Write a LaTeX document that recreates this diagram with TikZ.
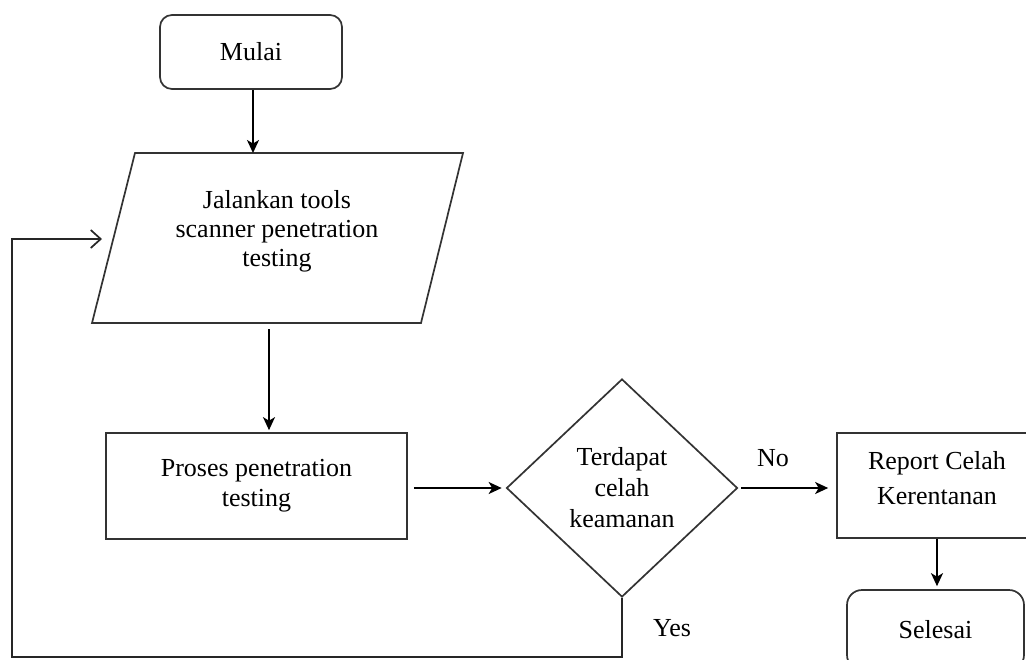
\documentclass[tikz,border=0pt]{standalone}
\usepackage{fontspec}
\setmainfont{Liberation Serif}
\usetikzlibrary{arrows.meta,shapes.geometric,calc}
\begin{document}
\begin{tikzpicture}[x=1pt,y=-1pt,
  txt/.style={font=\fontsize{26}{30}\selectfont, align=center, inner sep=0pt},
  outline/.style={draw=black!80, line width=1.7pt},
  box/.style={outline, inner sep=0pt},
  arr/.style={draw=black, line width=1.7pt, -{Stealth[length=13pt,width=12pt,inset=3.5pt]}},
  fb/.style={draw=black!85, line width=1.7pt, -{Straight Barb[length=10pt,width=18pt]}}
]
\useasboundingbox[fill=white] (0,0) rectangle (1026,659);

% start
\node[box, txt, rounded corners=12pt, minimum width=182, minimum height=74] (mulai) at (251,52) {Mulai};

% input parallelogram
\coordinate (p1) at (135,153);
\coordinate (p2) at (463,153);
\coordinate (p3) at (421,323);
\coordinate (p4) at (92,323);
\draw[outline] (p1) -- (p2) -- (p3) -- (p4) -- cycle;
\node[txt, font=\fontsize{26}{29}\selectfont] (par) at (277,231) {Jalankan tools\\scanner penetration\\testing};
\coordinate (pb) at (269,323);

% process
\node[box, txt, minimum width=301, minimum height=106] (proses) at (256.5,486) {Proses penetration\\testing};

% decision
\node[box, txt, diamond, font=\fontsize{26}{31}\selectfont, minimum width=231, minimum height=218] (dec) at (622,488) {Terdapat\\celah\\keamanan};

% report
\node[box, minimum width=200, minimum height=105] (report) at (937,485.5) {};
\node[txt, font=\fontsize{26}{35}\selectfont] (reporttext) at (937,478) {Report Celah\\Kerentanan};

% end
\node[box, txt, rounded corners=15pt, minimum width=177, minimum height=80] (selesai) at (935.5,630) {Selesai};

% connectors
\draw[arr] ([xshift=2pt]mulai.south) -- ([xshift=2pt]mulai.south |- p1);
\draw[arr, shorten <=6pt, shorten >=2pt] (pb) -- (pb |- proses.north);
\draw[arr, shorten <=6pt, shorten >=4pt] (proses.east |- dec.west) -- (dec.west);
\draw[arr, shorten <=3pt, shorten >=8pt] (dec.east) -- (dec.east -| report.west);
\node[txt] (no) at (773,458) {No};
\draw[arr, shorten >=3pt] (report.south) -- (report.south |- selesai.north);

\coordinate (c1) at (622,657);
\coordinate (c2) at (12,657);
\coordinate (c3) at (12,239);
\coordinate (fbend) at (102,239);
\draw[fb] (dec.south) -- (c1) -- (c2) -- (c3) -- (fbend);
\node[txt] (yes) at (672,628) {Yes};
\end{tikzpicture}
\end{document}
